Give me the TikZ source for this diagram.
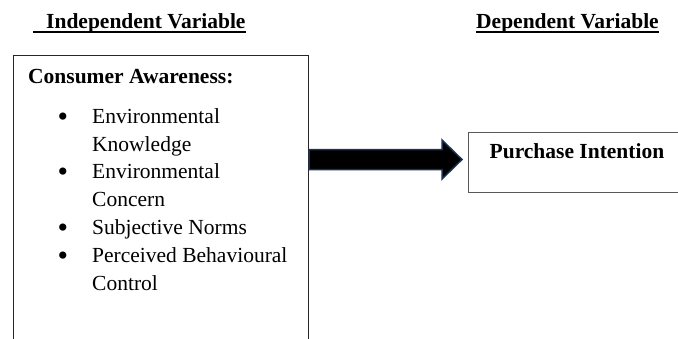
\documentclass[tikz,border=0pt]{standalone}
\usepackage{fontspec}
\setmainfont{Liberation Serif}
\usetikzlibrary{calc}
\definecolor{arrowrim}{RGB}{30,50,85}
\begin{document}
\begin{tikzpicture}[x=1pt, y=-1pt, font=\fontsize{21.5}{28}\selectfont,
  txt/.style={inner sep=0pt, anchor=base west},
  ul/.style={line width=1.6pt},
  box/.style={draw=#1, line width=1pt, inner sep=0pt},
  bigarrow/.style={fill=black, draw=arrowrim, line width=1.5pt, line join=miter}]
\useasboundingbox (0,0) rectangle (678,338);
\clip (0,0) rectangle (678,338);
% headings
\node[txt, font=\fontsize{21.5}{28}\selectfont\bfseries](indep) at (33,28){\hspace{13pt}Independent Variable};
\draw[ul]([yshift=-4pt]indep.base west)--([yshift=-4pt]indep.base east);
\node[txt, font=\fontsize{21.5}{28}\selectfont\bfseries](dep) at (476,28){Dependent Variable};
\draw[ul]([yshift=-4pt]dep.base west)--([yshift=-4pt]dep.base east);
% boxes
\node[box=black!85, minimum width=295pt, minimum height=320pt, anchor=north west](aware) at (13,55){};
\node[box=black!65, minimum width=211pt, minimum height=60pt, anchor=north west](intent) at (468,132){};
\node[txt, font=\fontsize{21.5}{28}\selectfont\bfseries](awtitle) at (28,83){Consumer Awareness:};
\foreach \y/\t/\b [count=\i] in {123/Environmental/1, 151/Knowledge/0, 178/Environmental/1, 206/Concern/0,
  234/Subjective Norms/1, 262/Perceived Behavioural/1, 290/Control/0}{
  \node[txt](item\i) at (92,\y){\t};
  \ifnum\b=1 \node[inner sep=0pt, font=\fontsize{30}{28}\selectfont](bul\i) at (63,\y-3){\textbullet};\fi
}
\node[inner sep=0pt, anchor=base, font=\fontsize{21.5}{28}\selectfont\bfseries](pi) at (577,158){Purchase Intention};
% arrow
\coordinate (a) at ([yshift=3pt]aware.east |- intent.west);
\coordinate (b) at ([xshift=-6pt,yshift=3pt]intent.west);
\draw[bigarrow]([yshift=10pt]a)--([xshift=-20pt,yshift=10pt]b)--([xshift=-20pt,yshift=19.5pt]b)--(b)
  --([xshift=-20pt,yshift=-19.5pt]b)--([xshift=-20pt,yshift=-10pt]b)--([yshift=-10pt]a)--cycle;
\end{tikzpicture}
\end{document}
